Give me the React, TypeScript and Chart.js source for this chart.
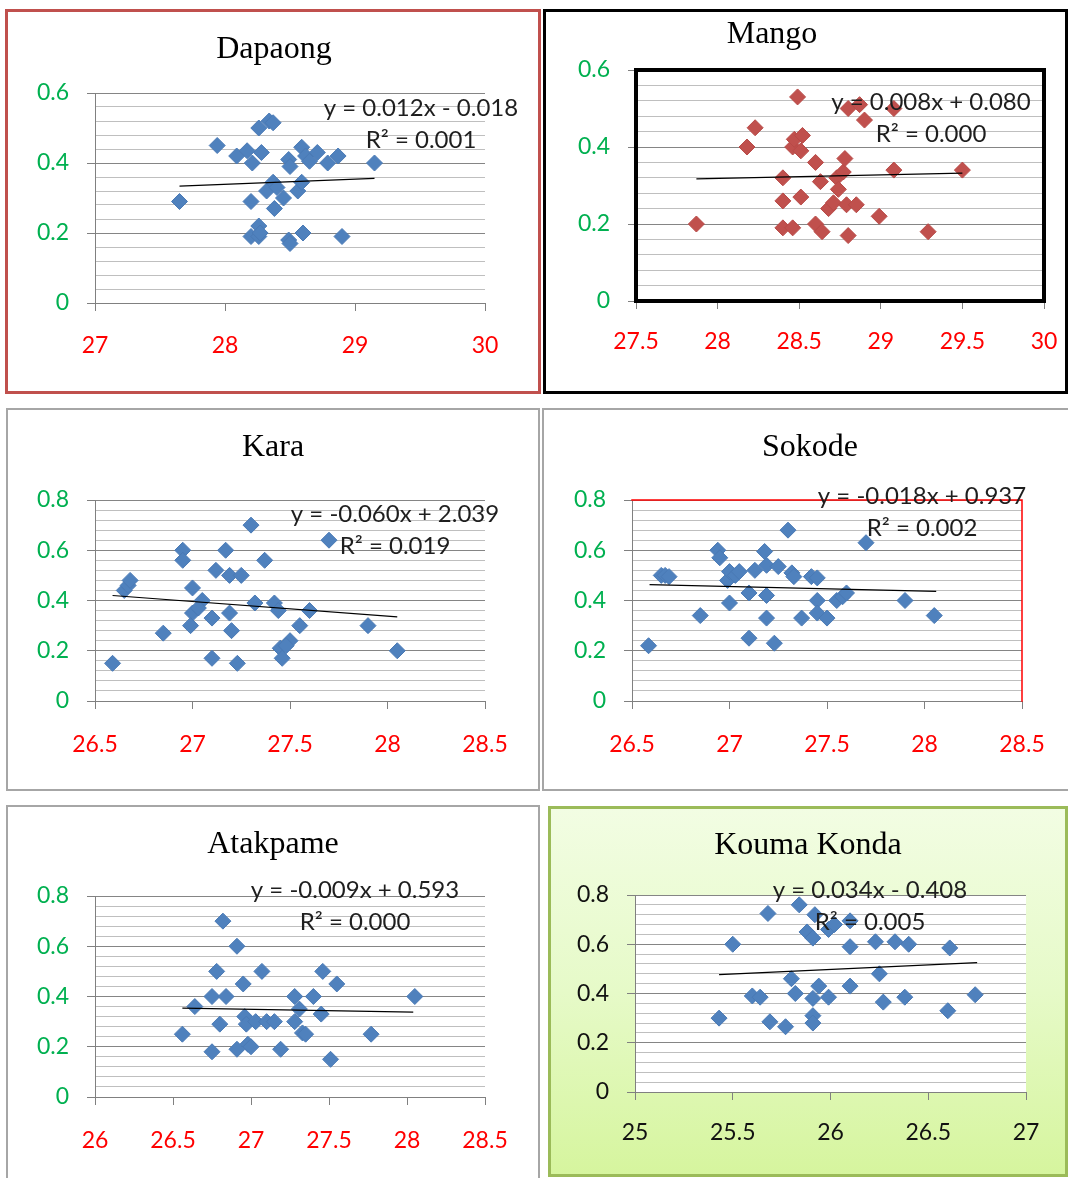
import React, { useEffect, useRef } from "react";
import { Chart, registerables } from "chart.js";

Chart.register(...registerables);

// ---------------- DATA ----------------
// Dapaong
const dapaongX = [27.65, 27.94, 28.09, 28.17, 28.21, 28.2, 28.2, 28.26, 28.28, 28.26, 28.26, 28.27, 28.32, 28.34, 28.37, 28.37, 28.38, 28.4, 28.45, 28.49, 28.5, 28.49, 28.5, 28.56, 28.59, 28.59, 28.6, 28.62, 28.65, 28.71, 28.79, 28.87, 28.9, 29.15];
const dapaongY = [0.29, 0.45, 0.42, 0.435, 0.4, 0.29, 0.19, 0.5, 0.43, 0.22, 0.19, 0.2, 0.32, 0.52, 0.515, 0.345, 0.27, 0.33, 0.3, 0.41, 0.39, 0.18, 0.17, 0.32, 0.345, 0.445, 0.2, 0.42, 0.405, 0.43, 0.4, 0.42, 0.19, 0.4];
const dapaongTrendX = [27.65, 29.15];
const dapaongTrendY = [0.334, 0.356];
const dapaongXTicks = ["27", "28", "29", "30"];
const dapaongYTicks = ["0", "0.2", "0.4", "0.6"];

// Mango
const mangoX = [27.87, 28.18, 28.23, 28.4, 28.4, 28.4, 28.46, 28.46, 28.47, 28.49, 28.52, 28.51, 28.51, 28.6, 28.63, 28.6, 28.64, 28.68, 28.71, 28.73, 28.74, 28.77, 28.78, 28.79, 28.85, 28.8, 28.87, 28.9, 28.99, 28.8, 29.08, 29.08, 29.29, 29.5];
const mangoY = [0.2, 0.4, 0.45, 0.32, 0.26, 0.19, 0.19, 0.4, 0.42, 0.53, 0.43, 0.39, 0.27, 0.36, 0.31, 0.2, 0.18, 0.24, 0.255, 0.32, 0.29, 0.335, 0.37, 0.25, 0.25, 0.5, 0.51, 0.47, 0.22, 0.17, 0.5, 0.34, 0.18, 0.34];
const mangoTrendX = [27.87, 29.5];
const mangoTrendY = [0.317, 0.332];
const mangoXTicks = ["27.5", "28", "28.5", "29", "29.5", "30"];
const mangoYTicks = ["0", "0.2", "0.4", "0.6"];

// Kara
const karaX = [26.59, 26.65, 26.67, 26.68, 26.85, 26.95, 26.95, 27.0, 27.0, 26.99, 27.05, 27.03, 27.1, 27.1, 27.12, 27.17, 27.19, 27.19, 27.2, 27.23, 27.25, 27.3, 27.32, 27.37, 27.42, 27.44, 27.45, 27.46, 27.5, 27.55, 27.6, 27.7, 27.9, 28.05, 27.48];
const karaY = [0.15, 0.44, 0.46, 0.48, 0.27, 0.6, 0.56, 0.45, 0.35, 0.3, 0.4, 0.37, 0.33, 0.17, 0.52, 0.6, 0.5, 0.35, 0.28, 0.15, 0.5, 0.7, 0.39, 0.56, 0.39, 0.36, 0.21, 0.17, 0.24, 0.3, 0.36, 0.64, 0.3, 0.2, 0.22];
const karaTrendX = [26.59, 28.05];
const karaTrendY = [0.42, 0.335];
const karaXTicks = ["26.5", "27", "27.5", "28", "28.5"];
const karaYTicks = ["0", "0.2", "0.4", "0.6", "0.8"];

// Sokode
const sokodeX = [26.585, 26.65, 26.67, 26.69, 26.85, 26.94, 26.95, 26.99, 27.0, 27.0, 27.03, 27.05, 27.1, 27.1, 27.13, 27.18, 27.19, 27.19, 27.19, 27.23, 27.25, 27.3, 27.32, 27.33, 27.37, 27.42, 27.45, 27.45, 27.45, 27.5, 27.55, 27.58, 27.6, 27.7, 27.9, 28.05];
const sokodeY = [0.22, 0.5, 0.5, 0.495, 0.34, 0.6, 0.57, 0.48, 0.515, 0.39, 0.5, 0.515, 0.43, 0.25, 0.52, 0.595, 0.54, 0.42, 0.33, 0.23, 0.535, 0.68, 0.51, 0.495, 0.33, 0.495, 0.49, 0.4, 0.35, 0.33, 0.4, 0.415, 0.43, 0.63, 0.4, 0.34];
const sokodeTrendX = [26.59, 28.06];
const sokodeTrendY = [0.463, 0.436];
const sokodeXTicks = ["26.5", "27", "27.5", "28", "28.5"];
const sokodeYTicks = ["0", "0.2", "0.4", "0.6", "0.8"];

// Atakpame
const atakpameX = [26.56, 26.64, 26.75, 26.75, 26.78, 26.8, 26.82, 26.84, 26.91, 26.91, 26.95, 26.96, 26.97, 26.98, 27.0, 27.03, 27.07, 27.1, 27.15, 27.19, 27.28, 27.28, 27.31, 27.33, 27.35, 27.4, 27.45, 27.46, 27.51, 27.55, 27.77, 28.05];
const atakpameY = [0.25, 0.36, 0.4, 0.18, 0.5, 0.29, 0.7, 0.4, 0.6, 0.19, 0.45, 0.32, 0.29, 0.21, 0.2, 0.3, 0.5, 0.3, 0.3, 0.19, 0.4, 0.3, 0.35, 0.255, 0.25, 0.4, 0.33, 0.5, 0.15, 0.45, 0.25, 0.4];
const atakpameTrendX = [26.56, 28.04];
const atakpameTrendY = [0.354, 0.338];
const atakpameXTicks = ["26", "26.5", "27", "27.5", "28", "28.5"];
const atakpameYTicks = ["0", "0.2", "0.4", "0.6", "0.8"];

// Kouma Konda
const koumaX = [25.43, 25.5, 25.6, 25.64, 25.68, 25.69, 25.77, 25.8, 25.82, 25.84, 25.88, 25.91, 25.92, 25.91, 25.91, 25.91, 25.94, 25.99, 25.99, 26.02, 26.1, 26.1, 26.1, 26.23, 26.25, 26.27, 26.33, 26.38, 26.4, 26.6, 26.61, 26.74];
const koumaY = [0.3, 0.6, 0.39, 0.385, 0.725, 0.285, 0.265, 0.46, 0.4, 0.76, 0.65, 0.625, 0.72, 0.38, 0.31, 0.28, 0.43, 0.385, 0.66, 0.68, 0.695, 0.59, 0.43, 0.61, 0.48, 0.365, 0.61, 0.385, 0.6, 0.33, 0.585, 0.395];
const koumaTrendX = [25.43, 26.75];
const koumaTrendY = [0.477, 0.525];
const koumaXTicks = ["25", "25.5", "26", "26.5", "27"];
const koumaYTicks = ["0", "0.2", "0.4", "0.6", "0.8"];

// ---------------- STYLE / LAYOUT ----------------
const TICK_FONT = "Lato";
const TITLE_FONT = "'Liberation Serif', 'Times New Roman', serif";
const AXIS_GREY = "#808080";
const GRID_MAJOR = "#858585";
const GRID_MINOR = "#bfbfbf";
const MINOR_STEP = 0.04;
const BLUE = "#4f81bd";
const BLUE_EDGE = "#4a7ab5";
const RED_M = "#c0504d";
const RED_EDGE = "#b84a47";
const GREEN_T = "#00b050";
const RED_T = "#ff0000";

type Spec = {
  id: string;
  title: string;
  eq1: string;
  eq2: string;
  xs: number[];
  ys: number[];
  tx: number[];
  ty: number[];
  xTicks: string[];
  yTicks: string[];
  box: { l: number; t: number; w: number; h: number };
  boxStyle: React.CSSProperties;
  plot: { l: number; r: number; t: number; b: number };
  titlePos: [number, number];
  eqPos: [number, number, number];
  marker: string;
  markerEdge: string;
  xColor: string;
  yColor: string;
  xPad: number;
  frame?: { color: string; width: number; sides: string };
  plotBg?: string;
};

const specs: Spec[] = [
  {
    id: "dapaong", title: "Dapaong", eq1: "y = 0.012x - 0.018", eq2: "R² = 0.001",
    xs: dapaongX, ys: dapaongY, tx: dapaongTrendX, ty: dapaongTrendY,
    xTicks: dapaongXTicks, yTicks: dapaongYTicks,
    box: { l: 5, t: 9, w: 536, h: 385 },
    boxStyle: { border: "3px solid #c0504d" },
    plot: { l: 95, r: 485, t: 93, b: 303 },
    titlePos: [274, 50], eqPos: [421, 108, 140],
    marker: BLUE, markerEdge: BLUE_EDGE, xColor: RED_T, yColor: GREEN_T, xPad: 21,
  },
  {
    id: "mango", title: "Mango", eq1: "y = 0.008x + 0.080", eq2: "R² = 0.000",
    xs: mangoX, ys: mangoY, tx: mangoTrendX, ty: mangoTrendY,
    xTicks: mangoXTicks, yTicks: mangoYTicks,
    box: { l: 543, t: 9, w: 525, h: 385 },
    boxStyle: { border: "3px solid #000" },
    plot: { l: 636, r: 1044, t: 70, b: 301 },
    titlePos: [772, 35], eqPos: [931, 102, 134],
    marker: RED_M, markerEdge: RED_EDGE, xColor: RED_T, yColor: GREEN_T, xPad: 19,
    frame: { color: "#000", width: 4, sides: "tlbr" },
  },
  {
    id: "kara", title: "Kara", eq1: "y = -0.060x + 2.039", eq2: "R² = 0.019",
    xs: karaX, ys: karaY, tx: karaTrendX, ty: karaTrendY,
    xTicks: karaXTicks, yTicks: karaYTicks,
    box: { l: 6, t: 408, w: 534, h: 383 },
    boxStyle: { border: "2px solid #a6a6a6" },
    plot: { l: 95, r: 485, t: 500, b: 701 },
    titlePos: [273, 448], eqPos: [395, 514, 546],
    marker: BLUE, markerEdge: BLUE_EDGE, xColor: RED_T, yColor: GREEN_T, xPad: 22,
  },
  {
    id: "sokode", title: "Sokode", eq1: "y = -0.018x + 0.937", eq2: "R² = 0.002",
    xs: sokodeX, ys: sokodeY, tx: sokodeTrendX, ty: sokodeTrendY,
    xTicks: sokodeXTicks, yTicks: sokodeYTicks,
    box: { l: 542, t: 408, w: 532, h: 383 },
    boxStyle: { border: "2px solid #a6a6a6" },
    plot: { l: 632, r: 1022, t: 500, b: 701 },
    titlePos: [810, 448], eqPos: [922, 496, 528],
    marker: BLUE, markerEdge: BLUE_EDGE, xColor: RED_T, yColor: GREEN_T, xPad: 22,
    frame: { color: "#ff0000", width: 1.5, sides: "tr" },
  },
  {
    id: "atakpame", title: "Atakpame", eq1: "y = -0.009x + 0.593", eq2: "R² = 0.000",
    xs: atakpameX, ys: atakpameY, tx: atakpameTrendX, ty: atakpameTrendY,
    xTicks: atakpameXTicks, yTicks: atakpameYTicks,
    box: { l: 6, t: 805, w: 534, h: 380 },
    boxStyle: { border: "2px solid #a6a6a6" },
    plot: { l: 95, r: 485, t: 896, b: 1097 },
    titlePos: [273, 845], eqPos: [355, 890, 922],
    marker: BLUE, markerEdge: BLUE_EDGE, xColor: RED_T, yColor: GREEN_T, xPad: 22,
  },
  {
    id: "kouma", title: "Kouma Konda", eq1: "y = 0.034x - 0.408", eq2: "R² = 0.005",
    xs: koumaX, ys: koumaY, tx: koumaTrendX, ty: koumaTrendY,
    xTicks: koumaXTicks, yTicks: koumaYTicks,
    box: { l: 548, t: 806, w: 520, h: 371 },
    boxStyle: { border: "3px solid #9bbb59", background: "linear-gradient(to bottom, #f2fde3 0%, #e6fac8 50%, #d6f59e 100%)" },
    plot: { l: 635, r: 1026, t: 895, b: 1092 },
    titlePos: [808, 846], eqPos: [870, 890, 922],
    marker: BLUE, markerEdge: BLUE_EDGE, xColor: "#111", yColor: "#111", xPad: 19,
    plotBg: "#ffffff",
  },
];

const decor = {
  id: "decor",
  beforeDraw(chart: any, _a: any, opts: any) {
    if (opts.plotBg) {
      const a = chart.chartArea;
      const ctx = chart.ctx;
      ctx.save();
      ctx.fillStyle = opts.plotBg;
      ctx.fillRect(a.left, a.top, a.right - a.left, a.bottom - a.top);
      ctx.restore();
    }
  },
  afterDraw(chart: any, _a: any, opts: any) {
    const ctx = chart.ctx;
    const a = chart.chartArea;
    ctx.save();
    if (opts.frame) {
      const f = opts.frame;
      ctx.strokeStyle = f.color;
      ctx.lineWidth = f.width;
      ctx.lineCap = "square";
      ctx.beginPath();
      if (f.sides.includes("t")) { ctx.moveTo(a.left, a.top); ctx.lineTo(a.right, a.top); }
      if (f.sides.includes("r")) { ctx.moveTo(a.right, a.top); ctx.lineTo(a.right, a.bottom); }
      if (f.sides.includes("b")) { ctx.moveTo(a.left, a.bottom); ctx.lineTo(a.right, a.bottom); }
      if (f.sides.includes("l")) { ctx.moveTo(a.left, a.top); ctx.lineTo(a.left, a.bottom); }
      ctx.stroke();
    }
    ctx.fillStyle = "#000";
    ctx.textAlign = "center";
    ctx.textBaseline = "middle";
    ctx.font = `32px ${TITLE_FONT}`;
    ctx.fillText(opts.title, opts.titleX, opts.titleY);
    ctx.fillStyle = "#1e1e1e";
    ctx.font = `24px ${TICK_FONT}`;
    ctx.fillText(opts.eq1, opts.eqX, opts.eqY1);
    ctx.fillText(opts.eq2, opts.eqX, opts.eqY2);
    ctx.restore();
  },
};

function Panel({ spec }: { spec: Spec }) {
  const ref = useRef<HTMLCanvasElement | null>(null);
  const { box, plot } = spec;

  useEffect(() => {
    const canvas = ref.current;
    if (!canvas) return;
    const pl = plot.l - box.l;
    const pr = plot.r - box.l;
    const pt = plot.t - box.t;
    const pb = plot.b - box.t;

    const xVals = spec.xTicks.map(Number);
    const yMajor = spec.yTicks.map(Number);
    const yMax = Math.max(...yMajor);
    const nMinor = Math.round(yMax / MINOR_STEP);
    const yGrid: number[] = [];
    for (let i = 0; i <= nMinor; i++) yGrid.push(Math.round(i * MINOR_STEP * 10000) / 10000);
    const majorIdx = (v: number) => yMajor.findIndex((m) => Math.abs(m - v) < 1e-6);

    const chart = new Chart(canvas, {
      type: "scatter",
      data: {
        datasets: [
          {
            type: "line",
            data: spec.tx.map((x, i) => ({ x, y: spec.ty[i] })),
            borderColor: "#000",
            borderWidth: 1.2,
            pointRadius: 0,
            fill: false,
            tension: 0,
          } as any,
          {
            type: "scatter",
            data: spec.xs.map((x, i) => ({ x, y: spec.ys[i] })),
            pointStyle: "rectRot",
            pointRadius: 8,
            backgroundColor: spec.marker,
            borderColor: spec.markerEdge,
            borderWidth: 1,
          } as any,
        ],
      },
      options: {
        animation: false,
        responsive: false,
        maintainAspectRatio: false,
        devicePixelRatio: 1,
        events: [],
        layout: { padding: { left: 0, top: pt, right: box.w - pr, bottom: 0 } },
        plugins: {
          legend: { display: false },
          tooltip: { enabled: false },
          title: { display: false },
          decor: {
            title: spec.title,
            titleX: spec.titlePos[0] - box.l,
            titleY: spec.titlePos[1] - box.t,
            eq1: spec.eq1,
            eq2: spec.eq2,
            eqX: spec.eqPos[0] - box.l,
            eqY1: spec.eqPos[1] - box.t,
            eqY2: spec.eqPos[2] - box.t,
            frame: spec.frame || null,
            plotBg: spec.plotBg || null,
          },
        } as any,
        scales: {
          x: {
            type: "linear",
            min: xVals[0],
            max: xVals[xVals.length - 1],
            afterBuildTicks: (s: any) => {
              s.ticks = xVals.map((v) => ({ value: v }));
            },
            afterFit: (s: any) => {
              s.height = box.h - pb;
              s.paddingLeft = 0;
              s.paddingRight = 0;
              s.paddingTop = 0;
              s.paddingBottom = 0;
            },
            ticks: {
              autoSkip: false,
              maxRotation: 0,
              color: spec.xColor,
              font: { family: TICK_FONT, size: 23 },
              padding: spec.xPad,
              callback: (_v: any, i: number) => spec.xTicks[i],
            },
            grid: {
              drawOnChartArea: false,
              drawTicks: true,
              tickLength: 8,
              color: AXIS_GREY,
              tickColor: AXIS_GREY,
            },
            border: { display: true, color: AXIS_GREY, width: 1 },
          },
          y: {
            type: "linear",
            min: 0,
            max: yMax,
            afterBuildTicks: (s: any) => {
              s.ticks = yGrid.map((v) => ({ value: v }));
            },
            afterFit: (s: any) => {
              s.width = pl;
              s.paddingLeft = 0;
              s.paddingRight = 0;
              s.paddingTop = 0;
              s.paddingBottom = 0;
            },
            ticks: {
              autoSkip: false,
              color: spec.yColor,
              font: { family: TICK_FONT, size: 23 },
              padding: 18,
              callback: (v: any) => {
                const k = majorIdx(Number(v));
                return k >= 0 ? spec.yTicks[k] : "";
              },
            },
            grid: {
              drawTicks: true,
              tickLength: 8,
              lineWidth: 1,
              color: (c: any) => (c.tick && majorIdx(c.tick.value) >= 0 ? GRID_MAJOR : GRID_MINOR),
              tickColor: (c: any) => (c.tick && majorIdx(c.tick.value) >= 0 ? AXIS_GREY : "rgba(0,0,0,0)"),
            },
            border: { display: true, color: AXIS_GREY, width: 1 },
          },
        },
      },
      plugins: [decor as any],
    });
    return () => chart.destroy();
  }, [spec]);

  return (
    <>
      <div
        style={{
          position: "absolute",
          left: box.l,
          top: box.t,
          width: box.w,
          height: box.h,
          boxSizing: "border-box",
          ...spec.boxStyle,
        }}
      />
      <canvas
        ref={ref}
        width={box.w}
        height={box.h}
        style={{ position: "absolute", left: box.l, top: box.t, width: box.w, height: box.h }}
      />
    </>
  );
}

export default function App() {
  return (
    <div
      style={{
        position: "absolute",
        left: 0,
        top: 0,
        width: 1068,
        height: 1178,
        overflow: "hidden",
        background: "#ffffff",
      }}
    >
      {specs.map((s) => (
        <Panel key={s.id} spec={s} />
      ))}
    </div>
  );
}
